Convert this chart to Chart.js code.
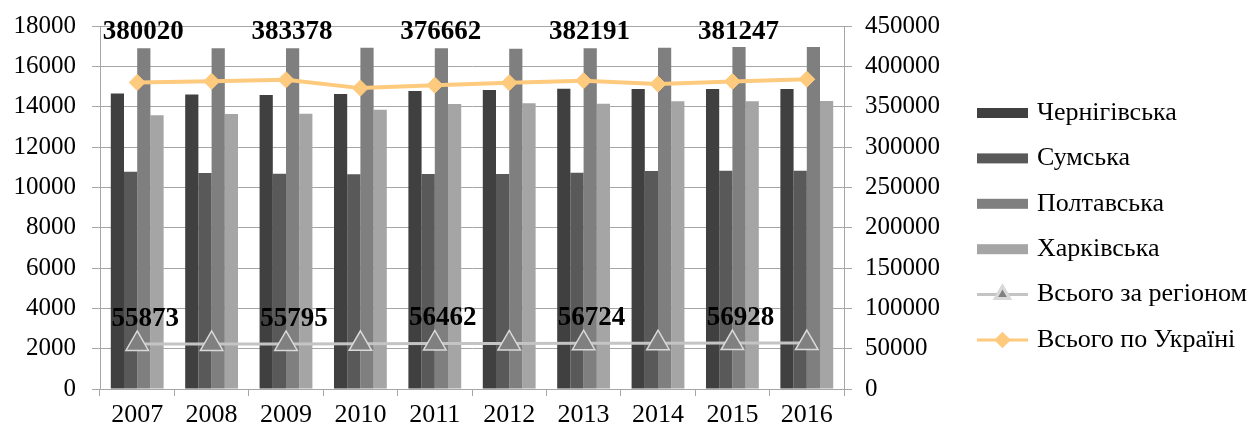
<!DOCTYPE html>
<html>
<head>
<meta charset="utf-8">
<script src="https://cdn.jsdelivr.net/npm/chart.js@4"></script>
<style>
  body { margin: 0; background: #fff; }
  #wrap { width: 1254px; height: 432px; position: relative; }
</style>
</head>
<body>
<div id="wrap"><canvas id="chart"></canvas></div>
<script>
var years = ['2007','2008','2009','2010','2011','2012','2013','2014','2015','2016'];
var chernihiv = [14650, 14600, 14580, 14630, 14775, 14830, 14890, 14875, 14875, 14875];
var sumy = [10775, 10710, 10675, 10645, 10660, 10660, 10725, 10810, 10825, 10825];
var poltava = [16895, 16900, 16895, 16925, 16895, 16875, 16895, 16925, 16960, 16960];
var kharkiv = [13570, 13635, 13650, 13850, 14130, 14165, 14150, 14265, 14265, 14280];
var regionTotal = [55873, 55850, 55795, 56050, 56462, 56550, 56724, 56850, 56928, 57000];
var ukraineTotal = [380020, 381500, 383378, 373000, 376662, 379700, 382191, 378000, 381247, 384000];
var labelledYears = ['2007','2009','2011','2013','2015'];

var FONT = "'Liberation Serif', 'Times New Roman', serif";
var gridColor = '#a6a6a6';

// value labels + legend drawn by hand
var extras = {
    id: 'extras',
    afterDatasetsDraw(chart) {
        var ctx = chart.ctx;
        var area = chart.chartArea;
        var reg = chart.getDatasetMeta(4).data;
        var ukr = chart.getDatasetMeta(5).data;
        ctx.save();
        ctx.font = 'bold 27px ' + FONT;
        ctx.fillStyle = '#000';
        ctx.textAlign = 'center';
        ctx.textBaseline = 'middle';
        years.forEach(function (y, i) {
            if (labelledYears.indexOf(y) < 0) return;
            ctx.fillText(String(ukraineTotal[i]), ukr[i].x + 6, area.top + 6);
            ctx.fillText(String(regionTotal[i]), reg[i].x + 8, reg[i].y - 25);
        });
        ctx.restore();
    },
    afterDraw(chart) {
        var ctx = chart.ctx;
        var ds = chart.data.datasets;
        var x0 = 977, w = 51, y0 = 113, step = 45.4;
        ctx.save();
        ctx.font = '26px ' + FONT;
        ctx.textBaseline = 'middle';
        ds.forEach(function (d, i) {
            var y = y0 + i * step;
            if (d.type === 'line') {
                ctx.strokeStyle = d.borderColor;
                ctx.lineWidth = 3;
                ctx.beginPath();
                ctx.moveTo(x0, y);
                ctx.lineTo(x0 + w, y);
                ctx.stroke();
                Chart.helpers.drawPoint(ctx, {
                    pointStyle: d.pointStyle,
                    radius: d.pointStyle === 'triangle' ? 8 : 6,
                    borderWidth: 1
                }, x0 + w / 2, y);
                ctx.fillStyle = d.pointBackgroundColor;
                ctx.strokeStyle = d.pointBorderColor;
                ctx.fill();
                ctx.stroke();
            } else {
                ctx.fillStyle = d.backgroundColor;
                ctx.fillRect(x0, y - 5, w, 10);
            }
            ctx.fillStyle = '#000';
            ctx.fillText(d.label, 1037, y);
        });
        ctx.restore();
    }
};

function plain(v) { return String(v); }
function noPad(s, w) { s.width = w; s.paddingTop = 0; s.paddingBottom = 0; }

new Chart(document.getElementById('chart'), {
    data: {
        labels: years,
        datasets: [
            { type: 'bar', label: 'Чернігівська', data: chernihiv, backgroundColor: '#404040', yAxisID: 'y', order: 2 },
            { type: 'bar', label: 'Сумська', data: sumy, backgroundColor: '#595959', yAxisID: 'y', order: 2 },
            { type: 'bar', label: 'Полтавська', data: poltava, backgroundColor: '#7f7f7f', yAxisID: 'y', order: 2 },
            { type: 'bar', label: 'Харківська', data: kharkiv, backgroundColor: '#a5a5a5', yAxisID: 'y', order: 2 },
            {
                type: 'line', label: 'Всього за регіоном', data: regionTotal, yAxisID: 'y2', order: 1,
                borderColor: '#c4c4c4', borderWidth: 3, backgroundColor: '#808080',
                pointStyle: 'triangle', pointRadius: 13,
                pointBackgroundColor: '#808080', pointBorderColor: '#d9d9d9', pointBorderWidth: 1.5
            },
            {
                type: 'line', label: 'Всього по Україні', data: ukraineTotal, yAxisID: 'y2', order: 0,
                borderColor: '#fdca7e', borderWidth: 4, backgroundColor: '#fdca7e',
                pointStyle: 'rectRot', pointRadius: 8,
                pointBackgroundColor: '#fdca7e', pointBorderColor: '#fdca7e', pointBorderWidth: 1
            }
        ]
    },
    options: {
        responsive: true,
        maintainAspectRatio: false,
        animation: false,
        layout: { padding: { top: 26, right: 310, left: 0, bottom: 0 } },
        datasets: { bar: { categoryPercentage: 0.71, barPercentage: 1.0 } },
        plugins: { legend: { display: false }, tooltip: { enabled: false } },
        scales: {
            x: {
                offset: true,
                grid: { offset: true, drawOnChartArea: false, color: gridColor, tickLength: 7 },
                border: { color: gridColor },
                ticks: { color: '#000', font: { family: FONT, size: 26 }, padding: 4, maxRotation: 0 },
                afterFit: function (s) { s.height = 43; s.paddingLeft = 0; s.paddingRight = 0; }
            },
            y: {
                position: 'left', min: 0, max: 18000,
                ticks: { stepSize: 2000, color: '#000', font: { family: FONT, size: 25 }, padding: 16, callback: plain },
                grid: { color: gridColor, tickLength: 8 },
                border: { color: gridColor },
                afterFit: function (s) { noPad(s, 100); }
            },
            y2: {
                position: 'right', min: 0, max: 450000,
                ticks: { stepSize: 50000, color: '#000', font: { family: FONT, size: 25 }, padding: 13, callback: plain },
                grid: { drawOnChartArea: false, color: gridColor, tickLength: 8 },
                border: { color: gridColor },
                afterFit: function (s) { noPad(s, 100); }
            }
        }
    },
    plugins: [extras]
});
</script>
</body>
</html>
